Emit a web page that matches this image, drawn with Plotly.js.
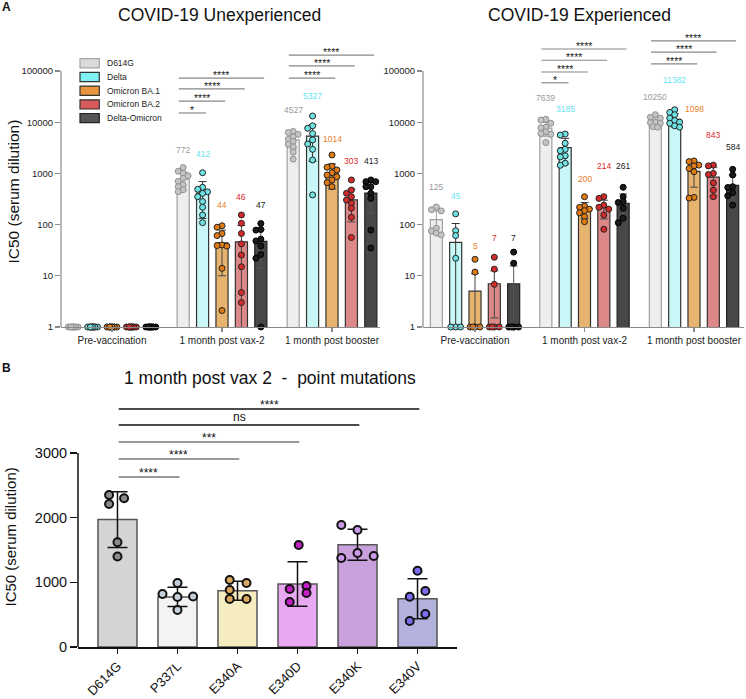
<!DOCTYPE html>
<html><head><meta charset="utf-8">
<script src="https://cdn.plot.ly/plotly-3.0.1.min.js"></script>
<style>html,body{margin:0;padding:0;background:#fff}#chart{width:746px;height:699px}</style>
</head><body><div id="chart"></div>
<script>
// ---------------- DATA ----------------
const variants = ['D614G', 'Delta', 'Omicron BA.1', 'Omicron BA.2', 'Delta-Omicron'];
const groupsA = ['Pre-vaccination', '1 month post vax-2', '1 month post booster'];

// COVID-19 Unexperienced: bar values (labels) per group
const unexpD614G = [1, 772, 4527];
const unexpDelta = [1, 412, 5327];
const unexpBA1 = [1, 44, 1014];
const unexpBA2 = [1, 46, 303];
const unexpDO = [1, 47, 413];
// SD
const unexpSdD614G = [0, 300, 1500];
const unexpSdDelta = [0, 280, 3600];
const unexpSdBA1 = [0, 34, 520];
const unexpSdBA2 = [0, 50, 190];
const unexpSdDO = [0, 33, 245];
// individual sera
const ones10 = [1, 1, 1, 1, 1, 1, 1, 1, 1, 1];
const unexpPtsD614G = [ones10, [1300, 1100, 1000, 900, 800, 700, 600, 550, 480, 440], [6600, 6300, 5800, 5200, 4600, 4200, 3700, 3300, 2600, 1900]];
const unexpPtsDelta = [ones10, [1030, 535, 490, 437, 408, 351, 282, 218, 154, 109], [13200, 8500, 7600, 6000, 4500, 3750, 2950, 1830, 380]];
const unexpPtsBA1 = [ones10, [95, 89, 67, 61, 40, 39, 38, 14, 2.1], [2290, 1380, 1320, 1170, 1030, 930, 860, 745, 660, 550]];
const unexpPtsBA2 = [ones10, [154, 106, 67, 42, 25.5, 15, 4.7, 3], [745, 473, 408, 351, 302, 260, 209, 139, 56]];
const unexpPtsDO = [ones10, [105, 80, 78, 52, 48, 38, 26, 22, 1], [745, 690, 690, 550, 550, 408, 325, 78, 35]];

// COVID-19 Experienced
const expD614G = [125, 7639, 10250];
const expDelta = [45, 3185, 11382];
const expBA1 = [5, 200, 1098];
const expBA2 = [7, 214, 843];
const expDO = [7, 261, 584];
const expSdD614G = [60, 2300, 2300];
const expSdDelta = [60, 1650, 3300];
const expSdBA1 = [6, 70, 560];
const expSdBA2 = [5.5, 85, 480];
const expSdDO = [8.5, 136, 350];
const expPtsD614G = [[220, 195, 185, 85, 75, 68, 63], [11400, 11000, 9500, 8000, 7800, 6500, 6000, 5800, 4000], [14000, 12500, 12000, 10000, 9800, 9500, 8200, 8000]];
const expPtsDelta = [[162, 76, 61, 22, 1, 1, 1], [5870, 5600, 3880, 2950, 2770, 2210, 2100, 1580, 1440], [17500, 15500, 14000, 12000, 10800, 10000, 9500, 8500, 8000]];
const expPtsBA1 = [[21, 11.8, 1, 1, 1, 1, 1], [350, 230, 218, 200, 187, 170, 143, 114], [1750, 1700, 1450, 1400, 1250, 1080, 340, 330]];
const expPtsBA2 = [[23, 13.5, 6.8, 1, 1, 1, 1], [351, 325, 240, 218, 200, 154, 81], [1450, 1400, 1000, 950, 650, 470, 350]];
const expPtsDO = [[29, 17.6, 1, 1, 1, 1, 1], [535, 351, 282, 270, 209, 133, 109], [1200, 930, 550, 530, 420, 365, 240]];

// significance
const sigVax2 = ['*', '****', '****', '****'];      // D614G vs Delta, BA.1, BA.2, Delta-Omicron
const sigBoost = ['****', '****', '****'];          // D614G vs BA.1, BA.2, Delta-Omicron

// Panel B
const mutations = ['D614G', 'P337L', 'E340A', 'E340D', 'E340K', 'E340V'];
const mutMean = [1970, 775, 870, 975, 1580, 745];
const mutSd = [430, 147, 147, 345, 240, 310];
const mutPts = [
  [2350, 2300, 2210, 1620, 1400],
  [990, 820, 773, 780, 572],
  [1036, 990, 880, 742, 742],
  [1577, 943, 897, 835, 696],
  [1886, 1808, 1453, 1376, 1406],
  [1179, 866, 778, 510, 402]
];
const mutSig = ['****', '****', '***', 'ns', '****'];   // D614G vs P337L ... E340V

// ---------------- STYLE / LAYOUT ----------------
const W = 746, H = 699;
const px = v => v / W, py = v => 1 - v / H;
const FONT = 'Liberation Sans, Arial, sans-serif';

const barFill = ['#eeeeee', '#c9f7f7', '#e6b46e', '#dd8888', '#484848'];
const barLine = ['#a0a0a0', '#333333', '#333333', '#333333', '#222222'];
const errCol = ['#999999', '#333333', '#444444', '#444444', '#555555'];
const ptFill = ['#c4c4c4', '#6fe3e3', '#e07a12', '#d22b2b', '#1a1a1a'];
const ptLine = ['#8f8f8f', '#222222', '#222222', '#222222', '#000000'];
const lblCol = ['#9a9a9a', '#66e4f0', '#e8822a', '#e02a2a', '#222222'];
const legFill = ['#dadada', '#7ef2f2', '#e8943c', '#d95a5a', '#555555'];
const legLine = ['#a6a6a6', '#333333', '#333333', '#333333', '#222222'];

const STEP = 0.1765, BARW = 0.11;
// label heights (log10 units) above bars
const lblPosU = [[null, 3.457, 4.238], [null, 3.379, 4.512], [null, 2.383, 3.672], [null, 2.539, 3.242], [null, 2.383, 3.242]];
const lblPosE = [[2.734, 4.473, 4.492], [2.559, 4.258, 4.824], [1.582, 2.891, 4.258], [1.738, 3.145, 3.75], [1.738, 3.145, 3.516]];
const brU = {vax: [4.18, 4.41, 4.65, 4.86], boost: [4.86, 5.10, 5.31]};
const brE = {vax: [4.77, 4.98, 5.21, 5.43], boost: [5.14, 5.37, 5.59]};
const brB = [2629, 2907, 3170, 3433, 3681];
const brBcol = ['#777777', '#777777', '#777777', '#111111', '#111111'];
const swarmB = [
  [-0.14, 0.11, -0.14, 0, 0],
  [0, -0.25, 0, 0.26, 0],
  [-0.13, 0.15, -0.13, -0.13, 0.15],
  [0.02, 0.15, -0.13, 0.15, -0.13],
  [-0.27, 0, 0, -0.27, 0.27],
  [0, 0.13, -0.13, 0.13, -0.13]
];

function swarm(vals, pxU, pxDec, d) {
  const idx = vals.map((_, i) => i).sort((a, b) => vals[b] - vals[a]);
  const placed = [];
  const out = new Array(vals.length).fill(0);
  const step = 0.7 * d;
  const cands = [0, -step, step];
  idx.forEach((i, n) => {
    const yp = Math.log10(vals[i]) * pxDec;
    let c = cands.find(cx => placed.every(p => Math.hypot(p.x - cx, p.y - yp) >= 0.65 * d));
    if (c === undefined) c = [-0.45 * step, 0.45 * step, 0][n % 3];
    placed.push({x: c, y: yp});
    out[i] = c / pxU;
  });
  return out;
}

const traces = [];
const shapes = [];
const annotations = [];

function panelA(means, sds, pts, xa, ya, pxU, lblPos, br, skipPreLabels) {
  // bars
  means.forEach((m, k) => {
    traces.push({
      type: 'bar', xaxis: xa, yaxis: ya,
      x: groupsA.map((g, gi) => gi + (k - 2) * STEP), y: m, width: BARW,
      marker: {color: barFill[k], line: {color: barLine[k], width: 1.2}},
      error_y: {type: 'data', array: sds[k], visible: true, color: errCol[k], thickness: 1, width: 4},
      showlegend: false, hoverinfo: 'skip'
    });
  });
  // points
  pts.forEach((grp, k) => {
    const xs = [], ys = [];
    grp.forEach((vals, gi) => {
      const off = swarm(vals, pxU, 51.2, 7);
      vals.forEach((v, j) => { xs.push(gi + (k - 2) * STEP + off[j]); ys.push(v); });
    });
    traces.push({
      type: 'scatter', mode: 'markers', xaxis: xa, yaxis: ya, x: xs, y: ys, cliponaxis: false,
      marker: {size: 6, color: ptFill[k], line: {color: ptLine[k], width: 1}},
      showlegend: false, hoverinfo: 'skip'
    });
  });
  // value labels
  means.forEach((m, k) => {
    m.forEach((v, gi) => {
      if (skipPreLabels && gi === 0) return;
      annotations.push({xref: xa, yref: ya, x: gi + (k - 2) * STEP, y: lblPos[k][gi], text: String(v),
        showarrow: false, font: {size: 8.5, color: lblCol[k], family: FONT}, xanchor: 'center', yanchor: 'middle'});
    });
  });
  // significance brackets
  const addBr = (gi, targets, levels, labels) => {
    targets.forEach((t, i) => {
      const x0 = gi - 2 * STEP - 0.04, x1 = gi + (t - 2) * STEP + 0.03;
      shapes.push({type: 'line', xref: xa, yref: ya, x0: x0, x1: x1, y0: Math.pow(10, levels[i]), y1: Math.pow(10, levels[i]),
        line: {color: '#888888', width: 1.2}});
      annotations.push({xref: xa, yref: ya, x: (x0 + x1) / 2, y: levels[i], text: labels[i], showarrow: false,
        font: {size: 10.5, color: '#222', family: FONT}, xanchor: 'center', yanchor: 'middle', yshift: 3});
    });
  };
  addBr(1, [1, 2, 3, 4], br.vax, sigVax2);
  addBr(2, [2, 3, 4], br.boost, sigBoost);
}

panelA([unexpD614G, unexpDelta, unexpBA1, unexpBA2, unexpDO],
       [unexpSdD614G, unexpSdDelta, unexpSdBA1, unexpSdBA2, unexpSdDO],
       [unexpPtsD614G, unexpPtsDelta, unexpPtsBA1, unexpPtsBA2, unexpPtsDO],
       'x', 'y', 110, lblPosU, brU, true);
panelA([expD614G, expDelta, expBA1, expBA2, expDO],
       [expSdD614G, expSdDelta, expSdBA1, expSdBA2, expSdDO],
       [expPtsD614G, expPtsDelta, expPtsBA1, expPtsBA2, expPtsDO],
       'x2', 'y2', 109.5, lblPosE, brE, false);

// panel B
const barFillB = ['#d4d4d4', '#f3f3f3', '#f5edc0', '#e8a8f2', '#c8a0dc', '#b2b2dc'];
const ptFillB = ['#8c8c8c', '#c5cfdb', '#dba75e', '#c51fc5', '#c89ae8', '#7b6cf0'];
traces.push({
  type: 'bar', xaxis: 'x3', yaxis: 'y3', x: mutations.map((m, i) => i), y: mutMean, width: 0.65,
  marker: {color: barFillB, line: {color: '#555555', width: 1.5}},
  error_y: {type: 'data', array: mutSd, visible: true, color: '#111', thickness: 1.5, width: 10},
  showlegend: false, hoverinfo: 'skip'
});
{
  const xs = [], ys = [], cs = [];
  mutPts.forEach((vals, i) => vals.forEach((v, j) => { xs.push(i + swarmB[i][j]); ys.push(v); cs.push(ptFillB[i]); }));
  traces.push({type: 'scatter', mode: 'markers', xaxis: 'x3', yaxis: 'y3', x: xs, y: ys, cliponaxis: false,
    marker: {size: 8, color: cs, line: {color: '#111', width: 2}}, showlegend: false, hoverinfo: 'skip'});
}
mutSig.forEach((s, i) => {
  const t = i + 1;
  shapes.push({type: 'line', xref: 'x3', yref: 'y3', x0: 0.02, x1: t + 0.03, y0: brB[i], y1: brB[i],
    line: {color: brBcol[i], width: 1.5}});
  annotations.push({xref: 'x3', yref: 'y3', x: (t + 0.05) / 2, y: brB[i], text: s, showarrow: false,
    font: {size: 12, color: '#111', family: FONT}, xanchor: 'center', yanchor: 'middle', yshift: s === 'ns' ? 8 : 4});
});

// manual y-axis lines
shapes.push({type: 'line', xref: 'paper', yref: 'y', x0: px(61), x1: px(61), y0: 1, y1: 100000, line: {color: '#8a8a8a', width: 1.2}});
shapes.push({type: 'line', xref: 'paper', yref: 'y2', x0: px(423), x1: px(423), y0: 1, y1: 100000, line: {color: '#8a8a8a', width: 1.2}});
shapes.push({type: 'line', xref: 'paper', yref: 'y3', x0: px(78), x1: px(78), y0: 0, y1: 3000, line: {color: '#111', width: 1.5}});

// legend (panel A)
const legRows = [63.3, 77, 90.7, 104.4, 118.1];
variants.forEach((v, k) => {
  shapes.push({type: 'rect', xref: 'paper', yref: 'paper', x0: px(80), x1: px(99.3), y0: py(legRows[k] - 4.6), y1: py(legRows[k] + 4.6),
    fillcolor: legFill[k], line: {color: legLine[k], width: 1.2}});
  annotations.push({xref: 'paper', yref: 'paper', x: px(105), y: py(legRows[k]), text: v, showarrow: false,
    font: {size: 8.5, color: '#222', family: FONT}, xanchor: 'left', yanchor: 'middle'});
});

// titles & labels
const T = (text, x, y, size, extra) => annotations.push(Object.assign({xref: 'paper', yref: 'paper', x: px(x), y: py(y), text: text,
  showarrow: false, font: {size: size, color: '#111', family: FONT}, xanchor: 'center', yanchor: 'middle'}, extra || {}));
T('COVID-19 Unexperienced', 219.5, 14.5, 17.5);
T('COVID-19 Experienced', 579, 14.5, 17.5);
T('1 month post vax 2 \u00a0-\u00a0 point mutations', 270, 378, 17.5);
T('<b>A</b>', 6, 7.5, 12);
T('<b>B</b>', 6, 368, 12);
T('IC50 (serum dilution)', 12.5, 192, 15.5, {textangle: -90});
T('IC50 (serum dilution)', 9.5, 537, 15, {textangle: -90});

const axA = (dom, rng, anchor) => ({domain: dom, range: rng, anchor: anchor, type: 'linear',
  tickvals: [0, 1, 2], ticktext: groupsA, ticks: 'outside', ticklen: 4, tickcolor: '#8a8a8a', tickwidth: 1.2,
  showline: true, linecolor: '#8a8a8a', linewidth: 1.2, showgrid: false, zeroline: false,
  tickfont: {size: 10, color: '#222', family: FONT}, fixedrange: true});
const ayA = (anchor) => ({domain: [py(327), py(35)], type: 'log', range: [0, 5.703], anchor: anchor,
  tickvals: [1, 10, 100, 1000, 10000, 100000], ticktext: ['1', '10', '100', '1000', '10000', '100000'],
  ticks: 'outside', ticklen: 5, tickcolor: '#8a8a8a', tickwidth: 1.2, showline: false, showgrid: false, zeroline: false,
  tickfont: {size: 9.5, color: '#222', family: FONT}, fixedrange: true});

const layout = {
  width: W, height: H, margin: {l: 0, r: 0, t: 0, b: 0}, paper_bgcolor: '#fff', plot_bgcolor: 'rgba(0,0,0,0)',
  barmode: 'overlay', showlegend: false, font: {family: FONT, color: '#111'},
  xaxis: axA([px(61), px(380)], [-0.4636, 2.4364], 'y'),
  yaxis: ayA('x'),
  xaxis2: axA([px(423), px(744)], [-0.4749, 2.4566], 'y2'),
  yaxis2: ayA('x2'),
  xaxis3: {domain: [px(78), px(457)], range: [-0.658, 5.658], anchor: 'y3', tickvals: mutations.map((m, i) => i), ticktext: mutations,
    tickangle: -45, ticks: 'outside', ticklen: 5, tickcolor: '#111', tickwidth: 1.5, showline: true, linecolor: '#111', linewidth: 1.5,
    showgrid: false, zeroline: false, tickfont: {size: 13, color: '#111', family: FONT}, fixedrange: true, automargin: false},
  yaxis3: {domain: [py(647), py(400)], range: [0, 3819], anchor: 'x3', tickvals: [0, 1000, 2000, 3000],
    ticks: 'outside', ticklen: 7, tickcolor: '#111', tickwidth: 1.5, showline: false, showgrid: false, zeroline: false,
    tickfont: {size: 14.5, color: '#111', family: FONT}, fixedrange: true},
  shapes: shapes, annotations: annotations
};

Plotly.newPlot('chart', traces, layout, {staticPlot: true, displayModeBar: false});
</script></body></html>
